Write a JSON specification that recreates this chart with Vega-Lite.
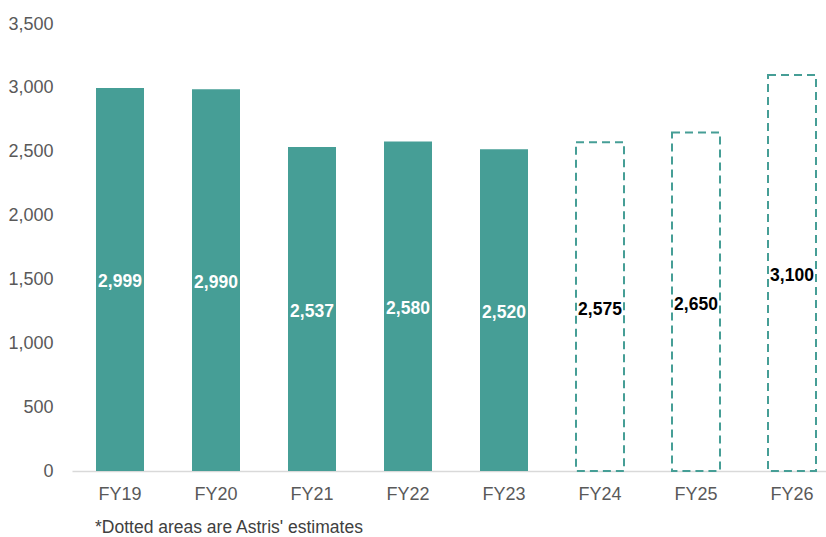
{
  "$schema": "https://vega.github.io/schema/vega-lite/v6.json",
  "width": 754,
  "height": 447,
  "autosize": {"type": "none"},
  "padding": {"left": 72, "top": 24, "right": 0, "bottom": 66},
  "background": "white",
  "config": {"view": {"stroke": null}},
  "title": {
    "text": "*Dotted areas are Astris' estimates",
    "orient": "bottom",
    "anchor": "start",
    "frame": "group",
    "dx": 23,
    "offset": 16,
    "font": "Liberation Sans",
    "fontSize": 17.5,
    "fontWeight": "normal",
    "color": "#404040"
  },
  "data": {
    "values": [
      {"year": "FY19", "value": 2999, "type": "Actual"},
      {"year": "FY20", "value": 2990, "type": "Actual"},
      {"year": "FY21", "value": 2537, "type": "Actual"},
      {"year": "FY22", "value": 2580, "type": "Actual"},
      {"year": "FY23", "value": 2520, "type": "Actual"},
      {"year": "FY24", "value": 2575, "type": "Estimate"},
      {"year": "FY25", "value": 2650, "type": "Estimate"},
      {"year": "FY26", "value": 3100, "type": "Estimate"}
    ]
  },
  "encoding": {
    "x": {
      "field": "year",
      "type": "nominal",
      "sort": null,
      "scale": {"range": [0, 768], "paddingInner": 0.5, "paddingOuter": 0.25},
      "axis": {
        "title": null,
        "ticks": false,
        "labelAngle": 0,
        "domainColor": "#d9d9d9",
        "domainWidth": 1.5,
        "labelPadding": 14,
        "labelColor": "#595959",
        "labelFont": "Liberation Sans",
        "labelFontSize": 18
      }
    }
  },
  "layer": [
    {
      "transform": [{"filter": "datum.type === 'Actual'"}],
      "mark": {"type": "bar", "color": "#469E96"},
      "encoding": {
        "y": {
          "field": "value",
          "type": "quantitative",
          "scale": {"domain": [0, 3500], "nice": false},
          "axis": {
            "title": null,
            "values": [0, 500, 1000, 1500, 2000, 2500, 3000, 3500],
            "format": ",.0f",
            "ticks": false,
            "domain": false,
            "grid": false,
            "labelPadding": 19,
            "labelColor": "#595959",
            "labelFont": "Liberation Sans",
            "labelFontSize": 18
          }
        }
      }
    },
    {
      "transform": [{"filter": "datum.type === 'Estimate'"}],
      "mark": {"type": "bar", "fill": "white", "fillOpacity": 0, "stroke": "#469E96", "strokeWidth": 2, "strokeDash": [8, 5]},
      "encoding": {
        "y": {"field": "value", "type": "quantitative"}
      }
    },
    {
      "transform": [{"calculate": "datum.value / 2", "as": "labelPos"}],
      "mark": {"type": "text", "font": "Liberation Sans", "fontWeight": "bold", "fontSize": 17.5, "baseline": "middle", "align": "center", "dy": 3},
      "encoding": {
        "y": {"field": "labelPos", "type": "quantitative"},
        "text": {"field": "value", "type": "quantitative", "format": ",.0f"},
        "color": {"field": "type", "type": "nominal", "scale": {"domain": ["Actual", "Estimate"], "range": ["#ffffff", "#000000"]}, "legend": null}
      }
    }
  ]
}
